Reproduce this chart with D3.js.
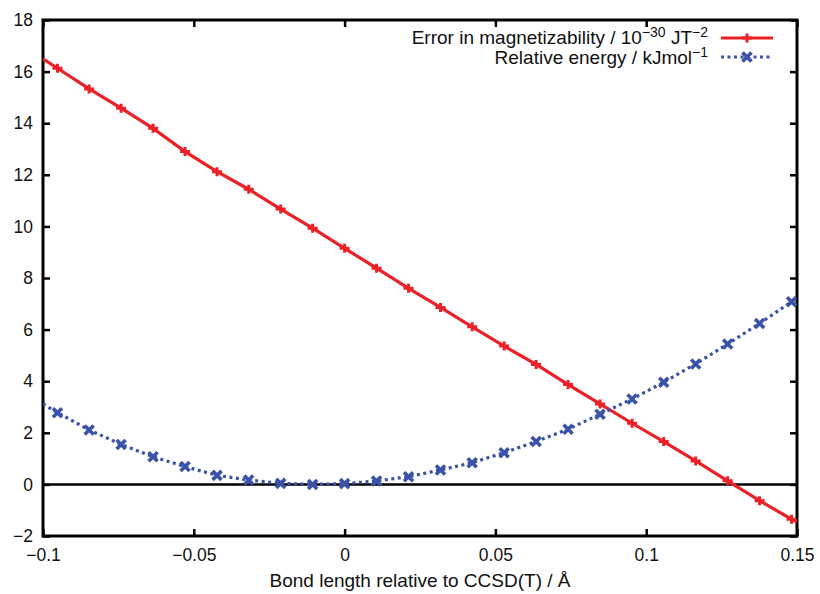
<!DOCTYPE html>
<html>
<head>
<meta charset="utf-8">
<script src="https://cdn.jsdelivr.net/npm/d3@7"></script>
<style>
  body { margin: 0; background: #fff; }
  svg { font-family: "Liberation Sans", Arial, sans-serif; }
</style>
</head>
<body>
<svg></svg>
<script>
// bond length offsets (Å)
let bondX = [-0.0952, -0.0847, -0.0741, -0.0635, -0.0529, -0.0423, -0.0318, -0.0212, -0.0106, 0,
             0.0106, 0.0212, 0.0318, 0.0423, 0.0529, 0.0635, 0.0741, 0.0847, 0.0953, 0.1058,
             0.1164, 0.1270, 0.1376, 0.1482];
let magError = [16.13, 15.33, 14.58, 13.80, 12.90, 12.12, 11.44, 10.67, 9.93, 9.15,
                8.38, 7.60, 6.86, 6.11, 5.36, 4.65, 3.87, 3.12, 2.37, 1.66,
                0.91, 0.14, -0.63, -1.35];
let relEnergy = [2.78, 2.11, 1.55, 1.07, 0.69, 0.35, 0.17, 0.04, 0.0, 0.03,
                 0.13, 0.30, 0.56, 0.84, 1.23, 1.66, 2.14, 2.72, 3.31, 3.96,
                 4.67, 5.44, 6.24, 7.08];
// where the drawn curves meet the frame
let magEdges = [[-0.1, 16.49], [0.15, -1.45]];
let energyEdges = [[-0.1, 3.12], [0.15, 7.22]];

let xTicks = [-0.1, -0.05, 0, 0.05, 0.1, 0.15];
let yTicks = [-2, 0, 2, 4, 6, 8, 10, 12, 14, 16, 18];

let width = 820;
let height = 594;
let padL = 43, padR = 797, padT = 20, padB = 536;

let red = "#ec2027";
let blue = "#3a52a8";

let svg = d3.select("svg").attr("width", width).attr("height", height);

let xScale = d3.scaleLinear().domain([-0.1, 0.15]).range([padL, padR]);
let yScale = d3.scaleLinear().domain([-2, 18]).range([padB, padT]);

let fmt = (d) => String(d).replace("-", "\u2212");

// clip for curves
svg.append("clipPath").attr("id", "plotclip")
    .append("rect")
    .attr("x", padL).attr("y", padT)
    .attr("width", padR - padL).attr("height", padB - padT);

// zero line
svg.append("line")
    .attr("x1", padL).attr("x2", padR)
    .attr("y1", yScale(0)).attr("y2", yScale(0))
    .attr("stroke", "#000").attr("stroke-width", 2.5);

// axes (inward ticks, mirrored)
let tickLen = 7;
let xAxis = d3.axisBottom(xScale).tickValues(xTicks).tickSize(-tickLen).tickPadding(13).tickFormat(fmt);
let yAxis = d3.axisLeft(yScale).tickValues(yTicks).tickSize(-tickLen).tickPadding(10).tickFormat(fmt);
let xTop = d3.axisTop(xScale).tickValues(xTicks).tickSize(-tickLen).tickFormat("");
let yRight = d3.axisRight(yScale).tickValues(yTicks).tickSize(-tickLen).tickFormat("");

let styleAxis = (g) => {
    g.select(".domain").remove();
    g.selectAll(".tick line").attr("stroke", "#000").attr("stroke-width", 2.5);
    g.selectAll(".tick text").attr("fill", "#111").style("font-size", "17.5px")
        .style("font-family", "'Liberation Sans', Arial, sans-serif");
};

svg.append("g").attr("transform", "translate(0," + padB + ")").call(xAxis).call(styleAxis);
svg.append("g").attr("transform", "translate(" + padL + ",0)").call(yAxis).call(styleAxis);
svg.append("g").attr("transform", "translate(0," + padT + ")").call(xTop).call(styleAxis);
svg.append("g").attr("transform", "translate(" + padR + ",0)").call(yRight).call(styleAxis);

// frame
svg.append("rect")
    .attr("x", padL).attr("y", padT)
    .attr("width", padR - padL).attr("height", padB - padT)
    .attr("fill", "none").attr("stroke", "#000").attr("stroke-width", 3);

let line = d3.line().x((d) => xScale(d[0])).y((d) => yScale(d[1]));

let magPts = bondX.map((x, i) => [x, magError[i]]);
let energyPts = bondX.map((x, i) => [x, relEnergy[i]]);

let plot = svg.append("g").attr("clip-path", "url(#plotclip)");

plot.append("path")
    .attr("d", line([magEdges[0]].concat(magPts, [magEdges[1]])))
    .attr("fill", "none").attr("stroke", red).attr("stroke-width", 3.2);

plot.append("path")
    .attr("d", line([energyEdges[0]].concat(energyPts, [energyEdges[1]])))
    .attr("fill", "none").attr("stroke", blue).attr("stroke-width", 3.2)
    .attr("stroke-dasharray", "3,3.5");

// markers
let plusMark = (g, x, y) => {
    g.append("path")
        .attr("d", "M" + (x - 5) + "," + y + "H" + (x + 5) + "M" + x + "," + (y - 4.5) + "V" + (y + 4.5))
        .attr("stroke", red).attr("stroke-width", 3).attr("fill", "none");
};
let crossMark = (g, x, y) => {
    let s = 4.5;
    g.append("path")
        .attr("d", "M" + (x - s) + "," + (y - s) + "L" + (x + s) + "," + (y + s) +
                   "M" + (x - s) + "," + (y + s) + "L" + (x + s) + "," + (y - s))
        .attr("stroke", blue).attr("stroke-width", 3.6).attr("fill", "none");
};

magPts.forEach((d) => plusMark(plot, xScale(d[0]), yScale(d[1])));
energyPts.forEach((d) => crossMark(plot, xScale(d[0]), yScale(d[1])));

// legend
let legend = svg.append("g").style("font-size", "19px").attr("fill", "#111");
let t1 = legend.append("text").attr("x", 708).attr("y", 44).attr("text-anchor", "end");
t1.append("tspan").text("Error in magnetizability / 10");
t1.append("tspan").attr("dy", -7).style("font-size", "14px").text("\u221230");
t1.append("tspan").attr("dy", 7).text(" JT");
t1.append("tspan").attr("dy", -7).style("font-size", "14px").text("\u22122");

let t2 = legend.append("text").attr("x", 708).attr("y", 63.5).attr("text-anchor", "end");
t2.append("tspan").text("Relative energy / kJmol");
t2.append("tspan").attr("dy", -7).style("font-size", "14px").text("\u22121");

svg.append("line").attr("x1", 721).attr("x2", 773).attr("y1", 38).attr("y2", 38)
    .attr("stroke", red).attr("stroke-width", 3.2);
plusMark(svg, 747, 38);
svg.append("line").attr("x1", 721).attr("x2", 773).attr("y1", 57).attr("y2", 57)
    .attr("stroke", blue).attr("stroke-width", 3.2).attr("stroke-dasharray", "3,3.5");
crossMark(svg, 747, 57);

// x label
svg.append("text")
    .attr("x", 420).attr("y", 587)
    .attr("text-anchor", "middle")
    .style("font-size", "19px")
    .attr("fill", "#111")
    .text("Bond length relative to CCSD(T) / \u00c5");
</script>
</body>
</html>
